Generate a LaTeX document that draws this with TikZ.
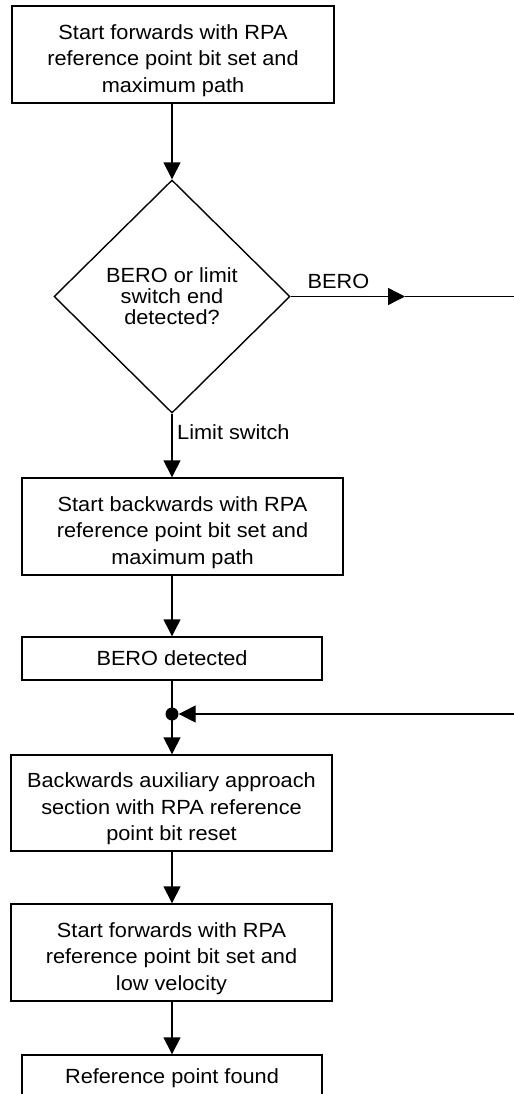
\documentclass[tikz,border=0pt]{standalone}
\usepackage{fontspec}
\setmainfont{Liberation Sans}[FakeStretch=1.06]
\usetikzlibrary{shapes.geometric,arrows.meta}
\newcommand{\toppad}{\rule{0pt}{27bp}}
\begin{document}
\begin{tikzpicture}[x=1bp,y=-1bp,
  lw/.style={line width=1.4bp},
  box/.style={draw,lw,rectangle,inner sep=0pt,align=center,font=\fontsize{20.5bp}{26.5bp}\selectfont},
  dec/.style={draw,lw,diamond,inner sep=0pt,minimum width=236bp,minimum height=233bp,align=center,font=\fontsize{20.5bp}{21bp}\selectfont},
  arr/.style={lw,-{Triangle[length=17bp,width=17bp]}},
  lbl/.style={font=\fontsize{20.5bp}{24bp}\selectfont,inner sep=0pt},
]
\useasboundingbox (0,0) rectangle (514,1094);
\clip (0,0) rectangle (514,1094);

\node[box,minimum width=322bp,minimum height=97bp] (b1) at (173,54.5) {\toppad Start forwards with RPA\\reference point bit set and\\maximum path};
\node[dec] (d) at (172,296.5) {BERO or limit\\switch end\\detected?};
\node[box,minimum width=321bp,minimum height=97bp] (b2) at (182.5,526.5) {\toppad Start backwards with RPA\\reference point bit set and\\maximum path};
\node[box,minimum width=300bp,minimum height=43bp] (b3) at (172,658.5) {BERO detected};
\node[circle,fill,inner sep=0pt,minimum size=13bp] (j) at (172,714) {};
\node[box,minimum width=321bp,minimum height=96bp] (b4) at (171.5,803) {\toppad Backwards auxiliary approach\\section with RPA reference\\point bit reset};
\node[box,minimum width=321bp,minimum height=97bp] (b5) at (171.5,952.5) {\toppad Start forwards with RPA\\reference point bit set and\\low velocity};
\node[box,minimum width=300bp,minimum height=46bp] (b6) at (172,1078) {Reference point found};

\node[lbl] (lb) at (338.5,281) {BERO};
\node[lbl,anchor=west] (ll) at (177,432) {Limit switch};

\coordinate (bt) at (405,296.5);
\coordinate (rt) at (514,296.5);
\coordinate (rl) at (514,714);

\draw[arr] (b1.south -| d.north) -- (d.north);
\draw[arr] (d.east) -- (bt);
\draw[lw] (bt) -- (rt);
\draw[arr] (d.south) -- (d.south |- b2.north);
\draw[arr] (b2.south -| b3.north) -- (b3.north);
\draw[lw] (b3.south) -- (j.center);
\draw[arr] (rl) -- (j.east);
\draw[arr] (j.center) -- (b4.north -| j.center);
\draw[arr] (b4.south -| j.center) -- (b5.north -| j.center);
\draw[arr] (b5.south -| j.center) -- (b6.north);
\end{tikzpicture}
\end{document}
